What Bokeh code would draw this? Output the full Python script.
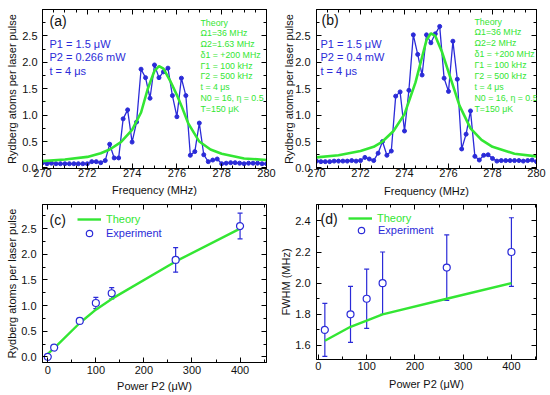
from bokeh.plotting import figure
from bokeh.layouts import column, row
from bokeh.models import (Range1d, FixedTicker, LinearAxis, NumeralTickFormatter, Label,
                          Legend, LegendItem, Whisker, TeeHead, ColumnDataSource, AllLabels)
from bokeh.embed import file_html
from bokeh.resources import INLINE

FONT = "Liberation Sans"
BLUE = "#2b2bd8"
GREEN = "#33e633"
INK = "#111111"

# ---------------- data ----------------
freq = [270.0, 270.2, 270.4, 270.6, 270.8, 271.0, 271.2, 271.4, 271.6, 271.8,
        272.0, 272.2, 272.4, 272.6, 272.8, 273.0, 273.2, 273.4, 273.6, 273.8,
        274.0, 274.2, 274.4, 274.6, 274.8, 275.0, 275.2, 275.4, 275.6, 275.8,
        276.0, 276.2, 276.4, 276.6, 276.8, 277.0, 277.2, 277.4, 277.6, 277.8,
        278.0, 278.2, 278.4, 278.6, 278.8, 279.0, 279.2, 279.4, 279.6, 279.8, 280.0]

exp_a = [0.10, 0.08, 0.09, 0.08, 0.08, 0.08, 0.08, 0.08, 0.08, 0.08,
         0.08, 0.12, 0.12, 0.10, 0.14, 0.45, 0.19, 0.19, 0.93, 1.10,
         0.49, 0.87, 1.87, 1.71, 1.32, 1.95, 1.71, 1.82, 1.89, 1.37,
         0.97, 1.70, 1.37, 0.24, 0.31, 0.85, 0.25, 0.12, 0.15, 0.17,
         0.08, 0.09, 0.10, 0.10, 0.09, 0.08, 0.09, 0.09, 0.09, 0.08, 0.08]

exp_b = [0.13, 0.12, 0.12, 0.12, 0.13, 0.13, 0.13, 0.13, 0.14, 0.13,
         0.14, 0.20, 0.17, 0.14, 0.28, 0.50, 0.24, 0.32, 1.36, 1.44,
         0.70, 1.47, 2.52, 2.15, 1.76, 2.52, 2.37, 2.54, 2.68, 1.70,
         1.45, 2.40, 1.68, 0.36, 0.64, 1.08, 0.22, 0.15, 0.24, 0.25,
         0.18, 0.13, 0.14, 0.14, 0.14, 0.14, 0.14, 0.13, 0.14, 0.15, 0.12]

th_freq_a = [270.0, 271.0, 272.0, 272.6, 273.0, 273.5, 274.0, 274.4, 274.7, 275.0,
             275.2, 275.4, 275.7, 276.0, 276.2, 276.5, 277.0, 277.5, 278.0, 279.0, 280.0]
th_a = [0.13, 0.16, 0.21, 0.28, 0.35, 0.49, 0.72, 1.05, 1.50, 1.84,
        1.93, 1.88, 1.65, 1.38, 1.18, 0.85, 0.50, 0.35, 0.27, 0.18, 0.15]

th_freq_b = [270.0, 271.0, 272.0, 272.6, 273.0, 273.5, 274.0, 274.5, 274.8, 275.0,
             275.2, 275.4, 275.7, 276.0, 276.5, 277.0, 277.5, 278.0, 279.0, 280.0]
th_b = [0.20, 0.24, 0.32, 0.40, 0.50, 0.70, 1.02, 1.62, 2.10, 2.42,
        2.55, 2.50, 2.20, 1.82, 1.18, 0.75, 0.53, 0.40, 0.27, 0.22]

power_c = [0, 13.3, 66.5, 100, 133, 266, 400]
atoms_c = [0.0, 0.18, 0.70, 1.05, 1.24, 1.89, 2.55]
err_c = [0.0, 0.03, 0.05, 0.11, 0.11, 0.24, 0.25]
th_power_c = [0, 13.3, 66.5, 100, 133, 266, 400]
th_atoms_c = [0.06, 0.17, 0.66, 0.92, 1.13, 1.86, 2.50]

power_d = [13.3, 66.5, 100, 133, 266, 400]
fwhm_d = [1.70, 1.80, 1.90, 2.00, 2.10, 2.20]
err_d = [0.17, 0.18, 0.19, 0.20, 0.21, 0.22]
th_power_d = [13.3, 66.5, 100, 133, 266, 400]
th_fwhm_d = [1.63, 1.72, 1.76, 1.80, 1.90, 2.00]

freq_ticks = [270, 272, 274, 276, 278, 280]
freq_minor = [270.5, 271, 271.5, 272.5, 273, 273.5, 274.5, 275, 275.5, 276.5, 277, 277.5,
              278.5, 279, 279.5]
atoms_ticks = [0.0, 0.5, 1.0, 1.5, 2.0, 2.5]
atoms_minor = [0.25, 0.75, 1.25, 1.75, 2.25, 2.75]
power_ticks = [0, 100, 200, 300, 400]
power_minor = [50, 150, 250, 350, 450]
fwhm_ticks = [1.6, 1.8, 2.0, 2.2, 2.4]
fwhm_minor = [1.7, 1.9, 2.1, 2.3]

params_a = ["P1 = 1.5 \u03bcW", "P2 = 0.266 mW", "t = 4 \u03bcs"]
params_b = ["P1 = 1.5 \u03bcW", "P2 = 0.4 mW", "t = 4 \u03bcs"]
theory_a = ["Theory", "\u03a91=36 MHz", "\u03a92=1.63 MHz", "\u03b41 = +200 MHz",
            "\u03931 = 100 kHz", "\u03932 = 500 kHz", "t = 4 \u03bcs",
            "N0 = 16, \u03b7 = 0.5", "T=150 \u03bcK"]
theory_b = ["Theory", "\u03a91=36 MHz", "\u03a92=2 MHz", "\u03b41 = +200 MHz",
            "\u03931 = 100 kHz", "\u03932 = 500 kHz", "t = 4 \u03bcs",
            "N0 = 16, \u03b7 = 0.5", "T=150 \u03bcK"]


def base_axis(ax, ticks, minor):
    ax.ticker = FixedTicker(ticks=ticks, minor_ticks=minor)
    ax.major_tick_in = 5
    ax.major_tick_out = 0
    ax.minor_tick_in = 3
    ax.minor_tick_out = 0
    ax.axis_line_color = "black"
    ax.major_tick_line_color = "black"
    ax.minor_tick_line_color = "black"
    ax.major_label_policy = AllLabels()


def style_axis(ax, ticks, minor, fmt, standoff, label, label_standoff):
    base_axis(ax, ticks, minor)
    ax.formatter = NumeralTickFormatter(format=fmt)
    ax.major_label_text_font = FONT
    ax.major_label_text_font_size = "11px"
    ax.major_label_text_color = INK
    ax.major_label_standoff = standoff
    ax.axis_label = label
    ax.axis_label_text_font = FONT
    ax.axis_label_text_font_size = "11px"
    ax.axis_label_text_font_style = "normal"
    ax.axis_label_text_color = INK
    ax.axis_label_standoff = label_standoff


def mirror(p, ticks, minor, where):
    ax = LinearAxis()
    base_axis(ax, ticks, minor)
    ax.major_label_text_color = None
    ax.major_label_text_font_size = "1px"
    ax.major_label_standoff = 0
    p.add_layout(ax, where)


def make_fig(fw, fh, borders, xr, yr):
    l, r, t, b = borders
    p = figure(frame_width=fw, frame_height=fh, x_range=Range1d(*xr), y_range=Range1d(*yr),
               output_backend="svg", toolbar_location=None,
               min_border_left=l, min_border_right=r, min_border_top=t, min_border_bottom=b)
    p.xgrid.visible = False
    p.ygrid.visible = False
    p.outline_line_color = "black"
    p.outline_line_width = 1
    p.background_fill_color = "white"
    p.border_fill_color = "white"
    return p


def add_text(p, text, x, y, size, color):
    p.add_layout(Label(x=x, y=y, x_units="screen", y_units="screen",
                       text=text, text_font=FONT, text_font_size=size, text_color=color,
                       text_baseline="middle", text_align="left"))


def spectrum(fw, fh, borders, exp, thf, th, tag, params, theory,
             xs, xls, ys, yls, tag_x, tag_off, param_x, param_offs, th_x, th_off0, th_step):
    p = make_fig(fw, fh, borders, (270, 280), (-0.01, 3.0))
    style_axis(p.xaxis[0], freq_ticks, freq_minor, "0", xs, "Frequency (MHz)", xls)
    style_axis(p.yaxis[0], atoms_ticks, atoms_minor, "0.0", ys,
               "Rydberg atoms per laser pulse", yls)
    mirror(p, freq_ticks, freq_minor, "above")
    mirror(p, atoms_ticks, atoms_minor, "right")
    p.line(freq, exp, line_color=BLUE, line_width=1.3)
    p.scatter(freq, exp, size=4, fill_color=BLUE, line_color=BLUE)
    p.line(thf, th, line_color=GREEN, line_width=2.6)
    add_text(p, tag, tag_x, fh - tag_off, "14px", INK)
    for s, o in zip(params, param_offs):
        add_text(p, s, param_x, fh - o, "11px", BLUE)
    for i, s in enumerate(theory):
        add_text(p, s, th_x, fh - (th_off0 + i * th_step), "8.8px", GREEN)
    return p


def power_panel(fw, fh, borders, xr, yr, yticks, yminor, yfmt, ylab,
                px, py, perr, tx, ty, tag, xs, xls, ys, yls, tag_x, tag_off,
                leg_th, leg_ex):
    p = make_fig(fw, fh, borders, xr, yr)
    style_axis(p.xaxis[0], power_ticks, power_minor, "0", xs, "Power P2 (\u03bcW)", xls)
    style_axis(p.yaxis[0], yticks, yminor, yfmt, ys, ylab, yls)
    mirror(p, power_ticks, power_minor, "above")
    mirror(p, yticks, yminor, "right")
    th_r = p.line(tx, ty, line_color=GREEN, line_width=2.4)
    keep = [i for i, e in enumerate(perr) if e > 0]
    wsrc = ColumnDataSource(data=dict(
        x=[px[i] for i in keep],
        upper=[py[i] + perr[i] for i in keep],
        lower=[py[i] - perr[i] for i in keep]))
    w = Whisker(source=wsrc, base="x", upper="upper", lower="lower",
                line_color=BLUE, line_width=1.2, level="underlay",
                upper_head=TeeHead(size=5, line_color=BLUE, line_width=1.2),
                lower_head=TeeHead(size=5, line_color=BLUE, line_width=1.2))
    p.add_layout(w)
    ex_r = p.scatter(px, py, marker="circle", size=7, fill_color="white",
                     line_color=BLUE, line_width=1.2)
    add_text(p, tag, tag_x, fh - tag_off, "14px", INK)
    for lab, rend, color, loc in (("Theory", th_r, GREEN, leg_th),
                                  ("Experiment", ex_r, BLUE, leg_ex)):
        lg = Legend(items=[LegendItem(label=lab, renderers=[rend])], location=loc,
                    padding=0, margin=0, spacing=0, glyph_width=24, glyph_height=16,
                    label_height=16, label_standoff=5, label_text_font=FONT,
                    label_text_font_size="11px", label_text_color=color,
                    border_line_color=None, background_fill_alpha=0)
        p.add_layout(lg)
    return p


pa = spectrum(224, 159, (42, 10, 9, 31), exp_a, th_freq_a, th_a, "(a)", params_a, theory_a,
              0, 4, 5, 1, 7, 11, 7, (34, 47.5, 61), 158, 13, 10.75)
pb = spectrum(220, 159, (40, 12, 8, 32), exp_b, th_freq_b, th_b, "(b)", params_b, theory_b,
              0, 5, 6, -3, 5, 10, 4, (34, 47, 61), 158, 12, 10.9)
pc = power_panel(224, 158, (42, 10, 5, 32), (-11, 455), (-0.11, 2.97),
                 atoms_ticks, atoms_minor, "0.0", "Rydberg atoms per laser pulse",
                 power_c, atoms_c, err_c, th_power_c, th_atoms_c, "(c)", 3, 3, 6, 0, 7, 15,
                 (35, 135), (35, 121))
pd = power_panel(220, 155, (40, 12, 5, 35), (-4, 452), (1.51, 2.505),
                 fwhm_ticks, fwhm_minor, "0.0", "FWHM (MHz)",
                 power_d, fwhm_d, err_d, th_power_d, th_fwhm_d, "(d)", 2, 5, 6, 0, 4, 14,
                 (32, 133), (33, 121))

layout = column(row(pa, pb), row(pc, pd))
open("out.html", "w").write(file_html(layout, INLINE))
